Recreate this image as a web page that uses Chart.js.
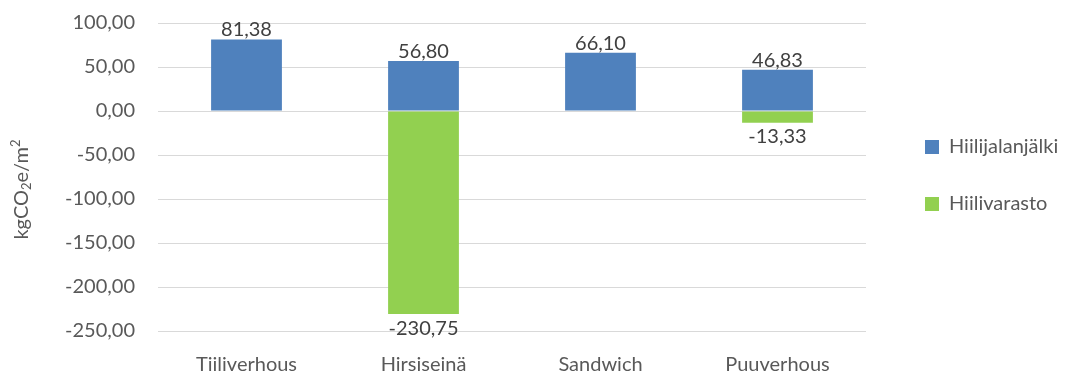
<!DOCTYPE html>
<html>
<head>
<meta charset="utf-8">
<script src="https://cdn.jsdelivr.net/npm/chart.js@4.4.1/dist/chart.umd.min.js"></script>
<style>
  html, body { margin: 0; padding: 0; background: #ffffff; }
  #wrap { width: 1079px; height: 374px; position: relative; }
</style>
</head>
<body>
<div id="wrap"><canvas id="c"></canvas></div>
<script>
// Categories and series values
const categories = ['Tiiliverhous', 'Hirsiseinä', 'Sandwich', 'Puuverhous'];
const seriesNames = ['Hiilijalanjälki', 'Hiilivarasto'];
const footprint = [81.38, 56.80, 66.10, 46.83];
const storage = [null, -230.75, null, -13.33];

// Value axis range
const yMin = -250;
const yMax = 100;
const yStep = 50;

// Axis title pieces: normal, subscript, superscript
const yTitleParts = [['kgCO', ''], ['2', 'sub'], ['e/m', ''], ['2', 'sup']];

const FONT = 'Lato';
const fmt = v => v.toFixed(2).replace('.', ',');

// Numbers drawn at the end of each bar
const valueLabels = {
  id: 'valueLabels',
  afterDatasetsDraw(chart) {
    const ctx = chart.ctx;
    ctx.save();
    ctx.font = '20px ' + FONT;
    ctx.fillStyle = '#404040';
    ctx.textAlign = 'center';
    ctx.textBaseline = 'alphabetic';
    chart.data.datasets.forEach((ds, i) => {
      const meta = chart.getDatasetMeta(i);
      meta.data.forEach((bar, j) => {
        const v = ds.data[j];
        if (v === null || v === undefined) return;
        const y = v >= 0 ? bar.y - 3 : bar.y + 20.5;
        ctx.fillText(fmt(v), bar.x, y);
      });
    });
    ctx.restore();
  }
};

// Rotated value-axis title with sub/superscript digits
const yAxisTitle = {
  id: 'yAxisTitle',
  afterDraw(chart) {
    const ctx = chart.ctx;
    const area = chart.chartArea;
    const cx = 22;
    const cy = (area.top + 356) / 2;
    ctx.save();
    ctx.translate(cx, cy);
    ctx.rotate(-Math.PI / 2);
    ctx.fillStyle = '#595959';
    ctx.textBaseline = 'middle';
    ctx.textAlign = 'left';
    const big = '20px ' + FONT, small = '13px ' + FONT;
    let total = 0;
    yTitleParts.forEach(([t, k]) => { ctx.font = k ? small : big; total += ctx.measureText(t).width; });
    let x = -total / 2;
    yTitleParts.forEach(([t, k]) => {
      ctx.font = k ? small : big;
      const dy = k === 'sub' ? 5 : (k === 'sup' ? -6 : 0);
      ctx.fillText(t, x, dy);
      x += ctx.measureText(t).width;
    });
    ctx.restore();
  }
};

// Legend slot: fixed width, items placed at a set x, block lifted a little
const LEGEND_WIDTH = 213;
const LEGEND_ITEM_X = 925;
const LEGEND_LIFT = 23;
const legendSlot = {
  id: 'legendSlot',
  beforeLayout(chart) {
    const lg = chart.legend;
    if (!lg || lg._slotPatched) return;
    const fit = lg.fit;
    lg.fit = function () {
      fit.call(this);
      this.width = LEGEND_WIDTH;
    };
    lg._slotPatched = true;
  },
  afterLayout(chart) {
    const lg = chart.legend;
    if (!lg) return;
    const dx = LEGEND_ITEM_X - lg.options.labels.padding - lg.left;
    lg.left += dx;
    lg.right += dx;
    lg.top -= LEGEND_LIFT;
    lg.bottom -= LEGEND_LIFT;
  }
};

new Chart(document.getElementById('c'), {
  type: 'bar',
  data: {
    labels: categories,
    datasets: [
      { label: seriesNames[0], data: footprint, backgroundColor: '#4F81BD', borderWidth: 0 },
      { label: seriesNames[1], data: storage, backgroundColor: '#92D050', borderWidth: 0 }
    ]
  },
  options: {
    responsive: true,
    maintainAspectRatio: false,
    animation: false,
    layout: { padding: { top: 23, right: 0, left: 0, bottom: 0 } },
    datasets: { bar: { categoryPercentage: 1.0, barPercentage: 0.4 } },
    scales: {
      x: {
        stacked: true,
        grid: { display: false },
        border: { display: false },
        ticks: { color: '#595959', font: { family: FONT, size: 20 }, padding: 14 },
        afterFit(s) { s.height = 43; s.paddingLeft = 0; s.paddingRight = 0; }
      },
      y: {
        stacked: true,
        min: yMin,
        max: yMax,
        grid: { color: '#D9D9D9', lineWidth: 1, drawTicks: false },
        border: { display: false },
        ticks: {
          stepSize: yStep,
          color: '#595959',
          font: { family: FONT, size: 20 },
          padding: 23,
          callback: v => fmt(v)
        },
        afterFit(s) { s.width = 158; s.paddingTop = 0; s.paddingBottom = 0; }
      }
    },
    plugins: {
      legend: {
        position: 'right',
        labels: {
          boxWidth: 14,
          boxHeight: 14,
          padding: 37,
          color: '#595959',
          font: { family: FONT, size: 20 }
        }
      },
      tooltip: { enabled: false }
    }
  },
  plugins: [valueLabels, yAxisTitle, legendSlot]
});
</script>
</body>
</html>
